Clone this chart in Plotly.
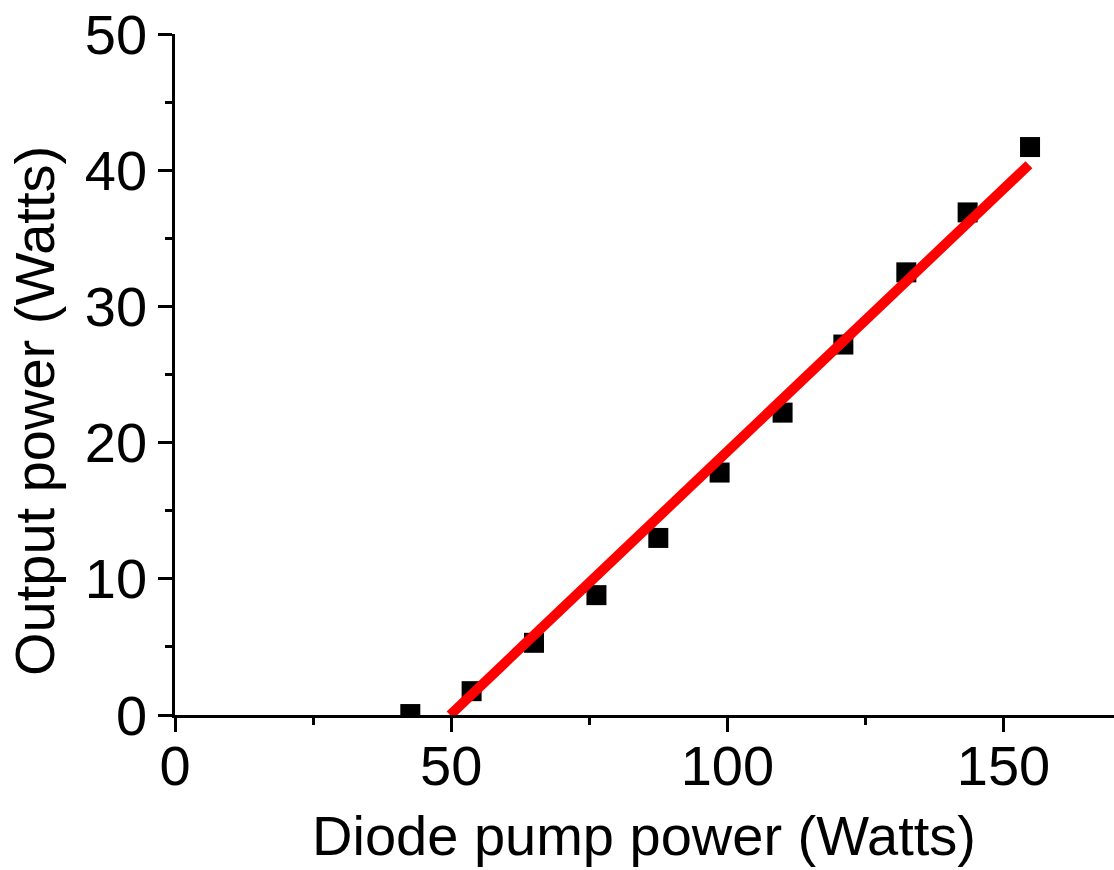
import plotly.graph_objects as go

# Measured data
pump_power = [42.6, 53.7, 65.0, 76.3, 87.5, 98.6, 110.0, 121.0, 132.4, 143.5, 154.8]
output_power = [0.07, 1.75, 5.3, 8.8, 13.0, 17.8, 22.2, 27.2, 32.5, 36.9, 41.7]

# Linear fit endpoints
fit_x = [49.8, 154.6]
fit_y = [0.0, 40.4]

x_ticks = [0, 50, 100, 150]
y_ticks = [0, 10, 20, 30, 40, 50]

x_title = "Diode pump power (Watts)"
y_title = "Output power (Watts)"

FONT = "Liberation Sans, Arial, sans-serif"

W, H = 1114, 870
ML, MR, MT, MB = 175, 0, 34, 155
PW, PH = W - ML - MR, H - MT - MB


def px_to_paper_x(px):
    return (px - ML) / PW


def px_to_paper_y(py):
    return (H - MB - py) / PH


fig = go.Figure()
fig.add_trace(go.Scatter(
    x=pump_power, y=output_power, mode="markers",
    marker=dict(symbol="square", size=20, color="black", line=dict(width=0)),
    showlegend=False, cliponaxis=True,
))
fig.add_trace(go.Scatter(
    x=fit_x, y=fit_y, mode="lines",
    line=dict(color="#ff0000", width=10),
    showlegend=False,
))

axis_common = dict(
    showline=True, linecolor="black", linewidth=2.5,
    ticks="outside", ticklen=14, tickwidth=2.5, tickcolor="black",
    showgrid=False, zeroline=False,
    tickfont=dict(family=FONT, size=56, color="black"),
)

fig.update_xaxes(
    range=[0, 170], tickvals=x_ticks, ticklabelstandoff=-14,
    minor=dict(dtick=25, tick0=0, ticks="outside", ticklen=7, tickwidth=2.5, tickcolor="black"),
    **axis_common,
)
fig.update_yaxes(
    range=[0, 50], tickvals=y_ticks,
    minor=dict(dtick=5, tick0=0, ticks="outside", ticklen=7, tickwidth=2.5, tickcolor="black"),
    **axis_common,
)

fig.add_annotation(
    text=x_title, xref="paper", yref="paper",
    x=px_to_paper_x(644), y=px_to_paper_y(835),
    xanchor="center", yanchor="middle", showarrow=False,
    font=dict(family=FONT, size=56, color="black"),
    borderpad=0,
)
fig.add_annotation(
    text=y_title, xref="paper", yref="paper", textangle=-90,
    x=px_to_paper_x(34), y=px_to_paper_y(411),
    xanchor="center", yanchor="middle", showarrow=False,
    font=dict(family=FONT, size=56, color="black"),
    borderpad=0,
)

fig.update_layout(
    width=W, height=H,
    margin=dict(l=ML, r=MR, t=MT, b=MB),
    paper_bgcolor="white", plot_bgcolor="white",
    font=dict(family=FONT, color="black"),
)

fig.write_html("out.html")
